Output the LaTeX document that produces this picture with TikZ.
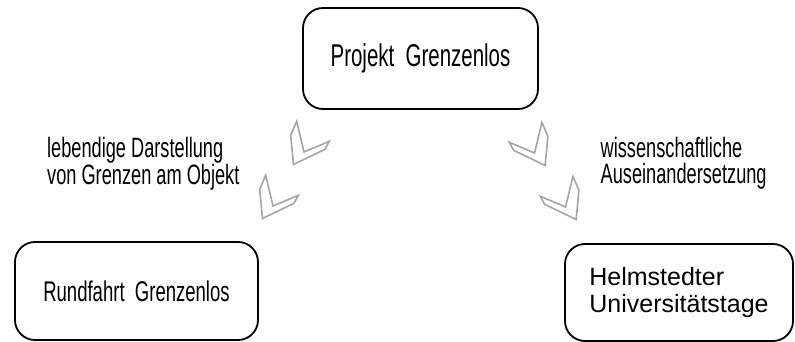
\documentclass[tikz,border=0pt]{standalone}
\usepackage{fontspec}
\setmainfont{Liberation Sans}
\newfontfamily\condfont[FakeStretch=0.65]{Liberation Sans}
\definecolor{chevgray}{RGB}{165,165,165}
\begin{document}
\begin{tikzpicture}[x=1pt,y=-1pt,
  box/.style={draw=black,line width=1.8pt,rounded corners=20pt,inner sep=0pt},
  chev/.style={draw=chevgray,line width=1.6pt,line join=miter},
  lbl/.style={inner sep=0pt,anchor=west,align=left,font=\condfont\fontsize{28}{26}\selectfont}]
\useasboundingbox (0,0) rectangle (795,342);
% boxes
\node[box,minimum width=235pt,minimum height=101pt,font=\condfont\fontsize{31.5}{33}\selectfont] (proj) at (420.5,58.5) {Projekt~~Grenzenlos};
\node[box,minimum width=243pt,minimum height=98pt,font=\condfont\fontsize{28.5}{30}\selectfont] (rund) at (136.5,291) {Rundfahrt~~Grenzenlos};
\node[box,minimum width=228pt,minimum height=97pt,align=left,font=\fontsize{25}{27}\selectfont] (helm) at (679,292.5) {Helmstedter\\Universitätstage};
% labels
\node[lbl] (lleft) at (47,163.5) {lebendige Darstellung\\von Grenzen am Objekt};
\node[lbl] (lright) at (600.5,163.5) {wissenschaftliche\\Auseinandersetzung};
% chevrons
\draw[chev] (296.7,121.3) -- (290.7,135.3) -- (293.5,164.5) -- (325,149.3) -- (329.3,141.3) -- (304,152) -- cycle;
\draw[chev] (265.7,175.3) -- (259.7,189.3) -- (262.5,218.5) -- (294,203.3) -- (298.3,195.3) -- (273,206) -- cycle;
\draw[chev] (541.9,122.3) -- (547.9,136.3) -- (545.1,165.5) -- (513.6,150.3) -- (509.3,142.3) -- (534.6,153) -- cycle;
\draw[chev] (572.9,176.3) -- (578.9,190.3) -- (576.1,219.5) -- (544.6,204.3) -- (540.3,196.3) -- (565.6,207) -- cycle;
\end{tikzpicture}
\end{document}
